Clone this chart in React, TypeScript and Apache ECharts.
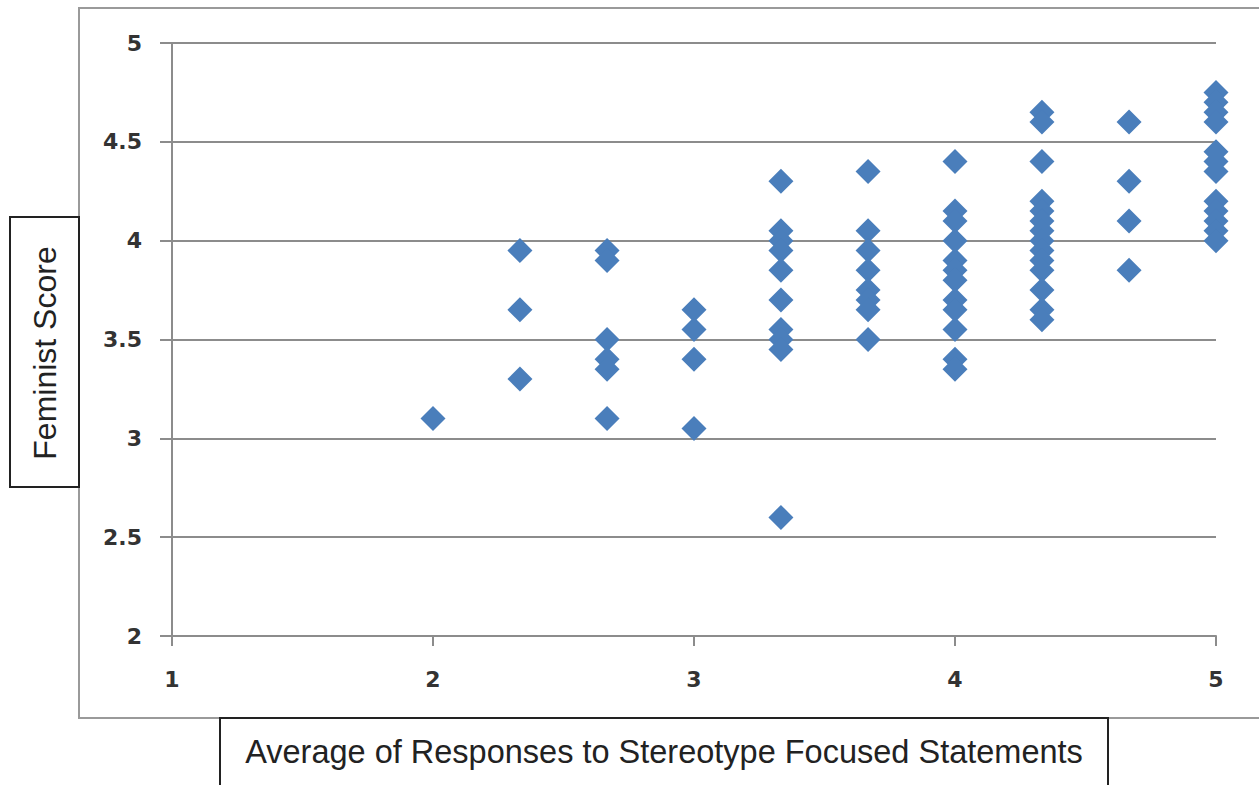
import React, { useEffect, useRef } from "react";
import * as echarts from "echarts";

// x levels (average of responses) and the feminist scores found at each level
const xLevels = [2, 2.333, 2.667, 3, 3.333, 3.667, 4, 4.333, 4.667, 5];
const yAt2 = [3.1];
const yAt233 = [3.95, 3.65, 3.3];
const yAt267 = [3.95, 3.9, 3.5, 3.4, 3.35, 3.1];
const yAt3 = [3.65, 3.55, 3.4, 3.05];
const yAt333 = [4.3, 4.05, 4.0, 3.95, 3.85, 3.7, 3.55, 3.5, 3.45, 2.6];
const yAt367 = [4.35, 4.05, 3.95, 3.85, 3.75, 3.7, 3.65, 3.5];
const yAt4 = [4.4, 4.15, 4.1, 4.0, 3.9, 3.85, 3.8, 3.7, 3.65, 3.55, 3.4, 3.35];
const yAt433 = [4.65, 4.6, 4.4, 4.2, 4.15, 4.1, 4.05, 4.0, 3.95, 3.9, 3.85, 3.75, 3.65, 3.6];
const yAt467 = [4.6, 4.3, 4.1, 3.85];
const yAt5 = [4.75, 4.7, 4.65, 4.6, 4.45, 4.4, 4.35, 4.2, 4.15, 4.1, 4.05, 4.0];
const yGroups = [yAt2, yAt233, yAt267, yAt3, yAt333, yAt367, yAt4, yAt433, yAt467, yAt5];

const xTitle = "Average of Responses to Stereotype Focused Statements";
const yTitle = "Feminist Score";

export default function App() {
  const ref = useRef<HTMLDivElement>(null);
  useEffect(() => {
    if (!ref.current) return;
    const chart = echarts.init(ref.current, undefined, { renderer: "svg" });
    const data: number[][] = [];
    xLevels.forEach((x, i) => yGroups[i].forEach((y) => data.push([x, y])));
    const grid = "#8c8c8c";
    const tickFont = {
      fontFamily: "DejaVu Sans",
      fontWeight: "bold" as const,
      fontSize: 22,
      color: "#333333",
    };
    chart.setOption({
      animation: false,
      backgroundColor: "#ffffff",
      grid: { left: 172, right: 43, top: 43, bottom: 149 },
      xAxis: {
        type: "value",
        min: 1,
        max: 5,
        interval: 1,
        axisLine: { show: true, lineStyle: { color: grid, width: 2 } },
        axisTick: { show: true, length: 10, lineStyle: { color: grid, width: 2 } },
        splitLine: { show: false },
        axisLabel: { ...tickFont, margin: 32 },
      },
      yAxis: {
        type: "value",
        min: 2,
        max: 5,
        interval: 0.5,
        axisLine: { show: true, lineStyle: { color: grid, width: 2 } },
        axisTick: { show: true, length: 12, lineStyle: { color: grid, width: 2 } },
        splitLine: { show: true, lineStyle: { color: grid, width: 2 } },
        axisLabel: { ...tickFont, margin: 30 },
      },
      series: [
        {
          type: "scatter",
          symbol: "diamond",
          symbolSize: 25,
          itemStyle: { color: "#4A7EBB", opacity: 1 },
          data,
          z: 5,
        },
      ],
      graphic: [
        {
          type: "rect",
          shape: { x: 79, y: 8, width: 1200, height: 710 },
          style: { fill: "none", stroke: "#9a9a9a", lineWidth: 2 },
          z: -1,
        },
        {
          type: "rect",
          shape: { x: 10, y: 217, width: 69, height: 270 },
          style: { fill: "#ffffff", stroke: "#222222", lineWidth: 2 },
        },
        {
          type: "text",
          x: 45,
          y: 353,
          rotation: Math.PI / 2,
          style: {
            text: yTitle,
            fontFamily: "Liberation Sans",
            fontSize: 32,
            fill: "#222222",
            align: "center",
            verticalAlign: "middle",
          },
        },
        {
          type: "rect",
          shape: { x: 220, y: 718, width: 888, height: 80 },
          style: { fill: "#ffffff", stroke: "#222222", lineWidth: 2 },
        },
        {
          type: "text",
          x: 664,
          y: 752,
          style: {
            text: xTitle,
            fontFamily: "Liberation Sans",
            fontSize: 32.5,
            fill: "#222222",
            align: "center",
            verticalAlign: "middle",
          },
        },
      ],
    });
    return () => chart.dispose();
  }, []);
  return (
    <div
      ref={ref}
      style={{ position: "absolute", left: 0, top: 0, width: 1259, height: 785 }}
    />
  );
}
